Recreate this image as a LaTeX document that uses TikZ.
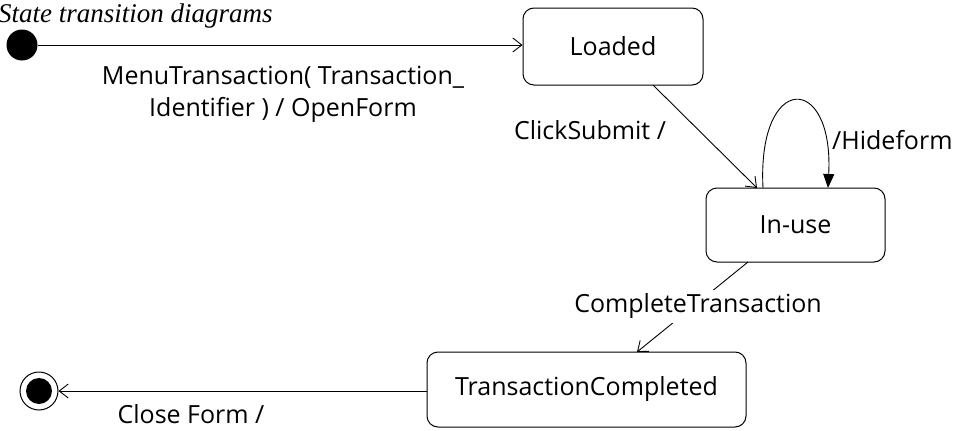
\documentclass[tikz,border=0pt]{standalone}
\usepackage{fontspec}
\setmainfont{Open Sans}
\newfontfamily\titlefont{Liberation Serif}
\usetikzlibrary{arrows.meta}
\begin{document}
\begin{tikzpicture}[x=1pt,y=-1pt,
  state/.style={draw, line width=1pt, rounded corners=11pt, inner sep=0pt, font=\fontsize{25}{28}\selectfont},
  lbl/.style={font=\fontsize{25}{32}\selectfont, align=center, inner sep=0pt},
  trans/.style={draw, line width=0.9pt, -{Straight Barb[length=9pt,width=14pt,line width=0.9pt]}},
  selftrans/.style={draw, line width=0.9pt, -{Triangle[length=14pt,width=11pt]}}]
\useasboundingbox (0,0) rectangle (959,431);

% title
\node[anchor=west, inner sep=0pt, font=\titlefont\itshape\fontsize{27}{30}\selectfont] (title) at (-2,16) {State transition diagrams};

% pseudo states
\node[circle, fill=black, minimum size=31pt, inner sep=0pt] (init) at (22,45) {};
\node[circle, draw, line width=1pt, minimum size=38pt, inner sep=0pt] (finalring) at (39,391) {};
\node[circle, fill=black, minimum size=26pt, inner sep=0pt] (final) at (39,391) {};

% states
\node[state, minimum width=180pt, minimum height=77pt] (loaded) at (613,46.5) {Loaded};
\node[state, minimum width=179pt, minimum height=74pt] (inuse) at (795.5,225) {In-use};
\node[state, minimum width=319pt, minimum height=75pt] (done) at (586.5,389.5) {TransactionCompleted};

% anchors for the transitions
\coordinate (loadedout) at (653,85);
\coordinate (inusein) at (757,188);
\coordinate (loopstart) at (763,188);
\coordinate (loopend) at (828,188);
\coordinate (inuseout) at (748,262);
\coordinate (donein) at (637,352);

% transitions
\draw[trans] (init) -- (loaded.west |- init);
\draw[trans] (loadedout) -- (inusein);
\draw[selftrans] (loopstart) .. controls (757,72) and (834,72) .. (loopend);
\draw[trans] (inuseout) -- (donein);
\draw[trans] (done.west |- finalring) -- (finalring.east);

% labels
\node[lbl] (menulbl) at (283,94) {MenuTransaction( Transaction\_\\Identifier ) / OpenForm};
\node[lbl] (clicklbl) at (590,130) {ClickSubmit /};
\node[lbl, anchor=west] (hidelbl) at (832,140) {/Hideform};
\node[lbl, fill=white, inner ysep=4pt, inner xsep=1pt] (completelbl) at (698,306) {CompleteTransaction};
\node[lbl] (closelbl) at (191,414) {Close Form /};
\end{tikzpicture}
\end{document}
